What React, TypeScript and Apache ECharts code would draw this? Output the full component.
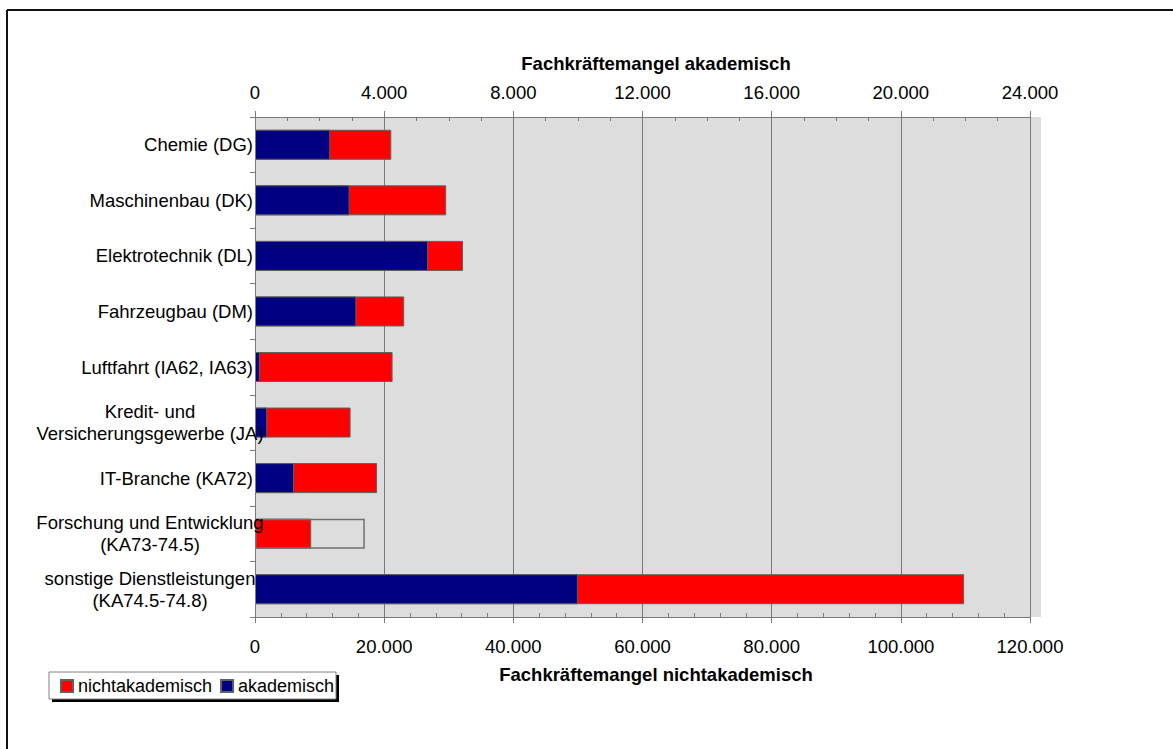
import React, { useEffect, useRef } from 'react';
import * as echarts from 'echarts';

const categories = [
  'Chemie (DG)',
  'Maschinenbau (DK)',
  'Elektrotechnik (DL)',
  'Fahrzeugbau (DM)',
  'Luftfahrt (IA62, IA63)',
  'Kredit- und\nVersicherungsgewerbe (JA)',
  'IT-Branche (KA72)',
  'Forschung und Entwicklung\n(KA73-74.5)',
  'sonstige Dienstleistungen\n(KA74.5-74.8)',
];
const akademisch = [2330, 2930, 5360, 3140, 150, 380, 1210, 3400, 10000];
const nichtakademisch = [21100, 29600, 32200, 23100, 21300, 14800, 18900, 8700, 109800];
const akademischOhneFuellung = ['Forschung und Entwicklung\n(KA73-74.5)'];
const legendNames = ['nichtakademisch', 'akademisch'];
const topAxisTitle = 'Fachkräftemangel akademisch';
const bottomAxisTitle = 'Fachkräftemangel nichtakademisch';
const topTicks = { min: 0, max: 24000, interval: 4000, minorSplit: 4 };
const bottomTicks = { min: 0, max: 120000, interval: 20000, minorSplit: 5 };

const FONT = "'Liberation Sans', Arial, sans-serif";
const FS = 18.5;
const GRID_COLOR = '#7a7a7a';
const BORDER = '#606060';

const fmt = (v: number) => String(Math.round(v)).replace(/\B(?=(\d{3})+(?!\d))/g, '.');

export default function App() {
  const ref = useRef<HTMLDivElement>(null);
  useEffect(() => {
    if (!ref.current) return;
    const chart = echarts.init(ref.current, null, { renderer: 'svg' });
    const W = 1173;
    const H = 749;
    const gl = 255, gr = 1030, gt = 117, gb = 617;

    const axisCommon = (t: typeof topTicks, pos: 'top' | 'bottom', margin: number, split: boolean) => ({
      type: 'value',
      position: pos,
      min: t.min,
      max: t.max,
      interval: t.interval,
      axisLine: { show: true, lineStyle: { color: GRID_COLOR, width: 1 } },
      axisTick: { show: true, length: 6, lineStyle: { color: GRID_COLOR } },
      minorTick: { show: true, splitNumber: t.minorSplit, length: -4, lineStyle: { color: GRID_COLOR } },
      splitLine: { show: split, lineStyle: { color: GRID_COLOR, width: 1 } },
      minorSplitLine: { show: false },
      axisLabel: {
        show: true,
        margin,
        color: '#000',
        fontFamily: FONT,
        fontSize: FS,
        formatter: (v: number) => fmt(v),
      },
    });

    chart.setOption({
      animation: false,
      backgroundColor: '#ffffff',
      grid: {
        left: gl,
        right: W - gr,
        top: gt,
        bottom: H - gb,
        show: true,
        backgroundColor: '#dddddd',
        borderWidth: 0,
        containLabel: false,
        outerBoundsMode: 'none',
      },
      xAxis: [
        axisCommon(bottomTicks, 'bottom', 20, false),
        axisCommon(topTicks, 'top', 15, true),
      ],
      yAxis: {
        type: 'category',
        inverse: true,
        z: 6,
        data: categories,
        axisLine: { show: true, lineStyle: { color: GRID_COLOR } },
        axisTick: { show: true, length: 5, lineStyle: { color: GRID_COLOR } },
        splitLine: { show: false },
        axisLabel: {
          margin: 2,
          color: '#000',
          fontFamily: FONT,
          fontSize: FS,
          interval: 0,
          formatter: (v: string) => {
            if (v.indexOf('\n') < 0) return v;
            return v
              .split('\n')
              .map((l) => '{c|' + l + '}')
              .join('\n');
          },
          rich: {
            c: {
              width: 206,
              align: 'center',
              lineHeight: 22,
              fontFamily: FONT,
              fontSize: FS,
              color: '#000',
            },
          },
        },
      },
      legend: {
        data: legendNames,
        left: 60,
        top: 677,
        padding: 0,
        itemWidth: 12,
        itemHeight: 12,
        itemGap: 8,
        icon: 'rect',
        textStyle: { color: '#000', fontFamily: FONT, fontSize: 18 },
      },
      series: [
        {
          type: 'bar',
          name: legendNames[0],
          xAxisIndex: 0,
          yAxisIndex: 0,
          data: nichtakademisch,
          barWidth: 30,
          barGap: '-100%',
          itemStyle: { color: '#ff0000', borderColor: BORDER, borderWidth: 1 },
        },
        {
          type: 'bar',
          name: legendNames[1],
          xAxisIndex: 1,
          yAxisIndex: 0,
          data: akademisch.map((v, i) =>
            akademischOhneFuellung.indexOf(categories[i]) >= 0
              ? { value: v, itemStyle: { color: 'rgba(0,0,0,0)', borderColor: '#707070', borderWidth: 1.5 } }
              : v
          ),
          barWidth: 30,
          barGap: '-100%',
          itemStyle: { color: '#000080', borderColor: BORDER, borderWidth: 1 },
        },
      ],
      graphic: [
        { type: 'line', shape: { x1: 7, y1: 10, x2: W, y2: 10 }, style: { stroke: '#111', lineWidth: 2 } },
        { type: 'line', shape: { x1: 7, y1: 10, x2: 7, y2: H }, style: { stroke: '#111', lineWidth: 2 } },
        { type: 'rect', shape: { x: gr, y: gt, width: 11, height: gb - gt }, style: { fill: '#dddddd' } },
        { type: 'rect', shape: { x: 52, y: 675, width: 287, height: 27 }, style: { fill: '#000' } },
        { type: 'rect', shape: { x: 49, y: 672, width: 287, height: 27 }, style: { fill: '#fff', stroke: '#808080', lineWidth: 1 } },
        {
          type: 'text',
          x: 656,
          y: 63,
          style: {
            text: topAxisTitle,
            fill: '#000',
            font: `bold ${FS}px ${FONT}`,
            textAlign: 'center',
            textVerticalAlign: 'middle',
          },
        },
        {
          type: 'text',
          x: 656,
          y: 674,
          style: {
            text: bottomAxisTitle,
            fill: '#000',
            font: `bold ${FS}px ${FONT}`,
            textAlign: 'center',
            textVerticalAlign: 'middle',
          },
        },
      ],
    });
    return () => chart.dispose();
  }, []);
  return <div ref={ref} style={{ position: 'absolute', left: 0, top: 0, width: 1173, height: 749 }} />;
}
